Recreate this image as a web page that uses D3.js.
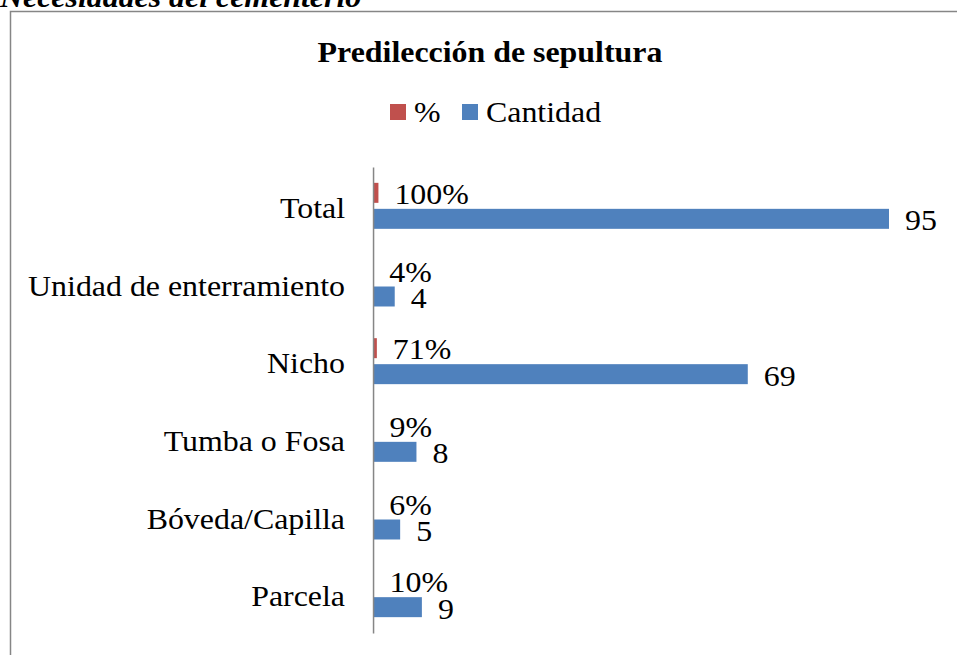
<!DOCTYPE html>
<html>
<head>
<meta charset="utf-8">
<script src="https://cdn.jsdelivr.net/npm/d3@7"></script>
<style>
  body { margin: 0; padding: 0; background: #fff; }
  svg { display: block; }
  text { font-family: "Liberation Serif", "Times New Roman", serif; fill: #000; }
</style>
</head>
<body>
<script>
const categories = ['Total', 'Unidad de enterramiento', 'Nicho', 'Tumba o Fosa', 'Bóveda/Capilla', 'Parcela'];
const pctValues = [1.00, 0.04, 0.71, 0.09, 0.06, 0.10];
const pctLabels = ['100%', '4%', '71%', '9%', '6%', '10%'];
const cantidad = [95, 4, 69, 8, 5, 9];
const seriesNames = ['%', 'Cantidad'];
const seriesColors = ['#C0504D', '#4F81BD'];

const width = 957, height = 655;
// the picture is stretched horizontally, so draw in a narrower space and stretch it
const sx = 1.1;
const X = px => px / sx;
const fontSize = 29;

const svg = d3.select('body').append('svg')
  .attr('width', width)
  .attr('height', height)
  .attr('viewBox', `0 0 ${width / sx} ${height}`)
  .attr('preserveAspectRatio', 'none');

// caption cut off at the top
svg.append('text')
  .attr('x', 0)
  .attr('y', 7)
  .style('font-size', fontSize + 'px')
  .style('font-weight', 'bold')
  .style('font-style', 'italic')
  .text('Necesidades del cementerio');

// chart area border
svg.append('rect')
  .attr('x', X(10.5))
  .attr('y', 11.5)
  .attr('width', width)
  .attr('height', height)
  .attr('fill', 'none')
  .attr('stroke', '#868686')
  .attr('stroke-width', 1.5)
  .attr('vector-effect', 'non-scaling-stroke');

// title
svg.append('text')
  .attr('x', X(490))
  .attr('y', 62)
  .attr('text-anchor', 'middle')
  .style('font-size', fontSize + 'px')
  .style('font-weight', 'bold')
  .text('Predilección de sepultura');

// legend
const legend = svg.append('g');
const legendX = [X(390), X(462)];
seriesNames.forEach((name, i) => {
  legend.append('rect')
    .attr('x', legendX[i])
    .attr('y', 104)
    .attr('width', X(16))
    .attr('height', 16)
    .attr('fill', seriesColors[i]);
  legend.append('text')
    .attr('x', legendX[i] + X(24))
    .attr('y', 122)
    .style('font-size', fontSize + 'px')
    .text(name);
});

const xScale = d3.scaleLinear()
  .domain([0, 95])
  .range([X(373), X(889)]);

const y0 = d3.scaleBand()
  .domain(categories)
  .range([167, 633])
  .paddingInner(0.408)
  .paddingOuter(0.204);

const y1 = d3.scaleBand()
  .domain(seriesNames)
  .range([0, y0.bandwidth()])
  .paddingInner(0.231);

const rows = categories.map((c, i) => ({
  cat: c,
  pct: pctValues[i],
  pctLabel: pctLabels[i],
  cant: cantidad[i]
}));

// bars
const groups = svg.append('g')
  .selectAll('g')
  .data(rows)
  .join('g')
    .attr('transform', d => `translate(0,${y0(d.cat)})`);

groups.append('rect')
  .attr('x', xScale(0))
  .attr('y', y1('%'))
  .attr('width', d => xScale(d.pct) - xScale(0))
  .attr('height', y1.bandwidth())
  .attr('fill', seriesColors[0]);

groups.append('rect')
  .attr('x', xScale(0))
  .attr('y', y1('Cantidad'))
  .attr('width', d => xScale(d.cant) - xScale(0))
  .attr('height', y1.bandwidth())
  .attr('fill', seriesColors[1]);

groups.append('text')
  .attr('x', d => xScale(d.pct) + X(16))
  .attr('y', y1('%') + y1.bandwidth() / 2)
  .attr('dy', '0.38em')
  .style('font-size', fontSize + 'px')
  .text(d => d.pctLabel);

groups.append('text')
  .attr('x', d => xScale(d.cant) + X(16))
  .attr('y', y1('Cantidad') + y1.bandwidth() / 2)
  .attr('dy', '0.4em')
  .style('font-size', fontSize + 'px')
  .text(d => d.cant);

// category axis
const yAxis = d3.axisLeft(y0)
  .tickSize(0)
  .tickSizeOuter(0)
  .tickPadding(X(28));

const axisG = svg.append('g')
  .attr('transform', `translate(${xScale(0)},0)`)
  .call(yAxis);

axisG.select('.domain')
  .attr('stroke', '#868686')
  .attr('stroke-width', 1.5)
  .attr('vector-effect', 'non-scaling-stroke');

axisG.selectAll('.tick text')
  .attr('dy', '0.42em')
  .style('font-size', fontSize + 'px')
  .style('font-family', '"Liberation Serif", "Times New Roman", serif')
  .attr('fill', '#000');
</script>
</body>
</html>
